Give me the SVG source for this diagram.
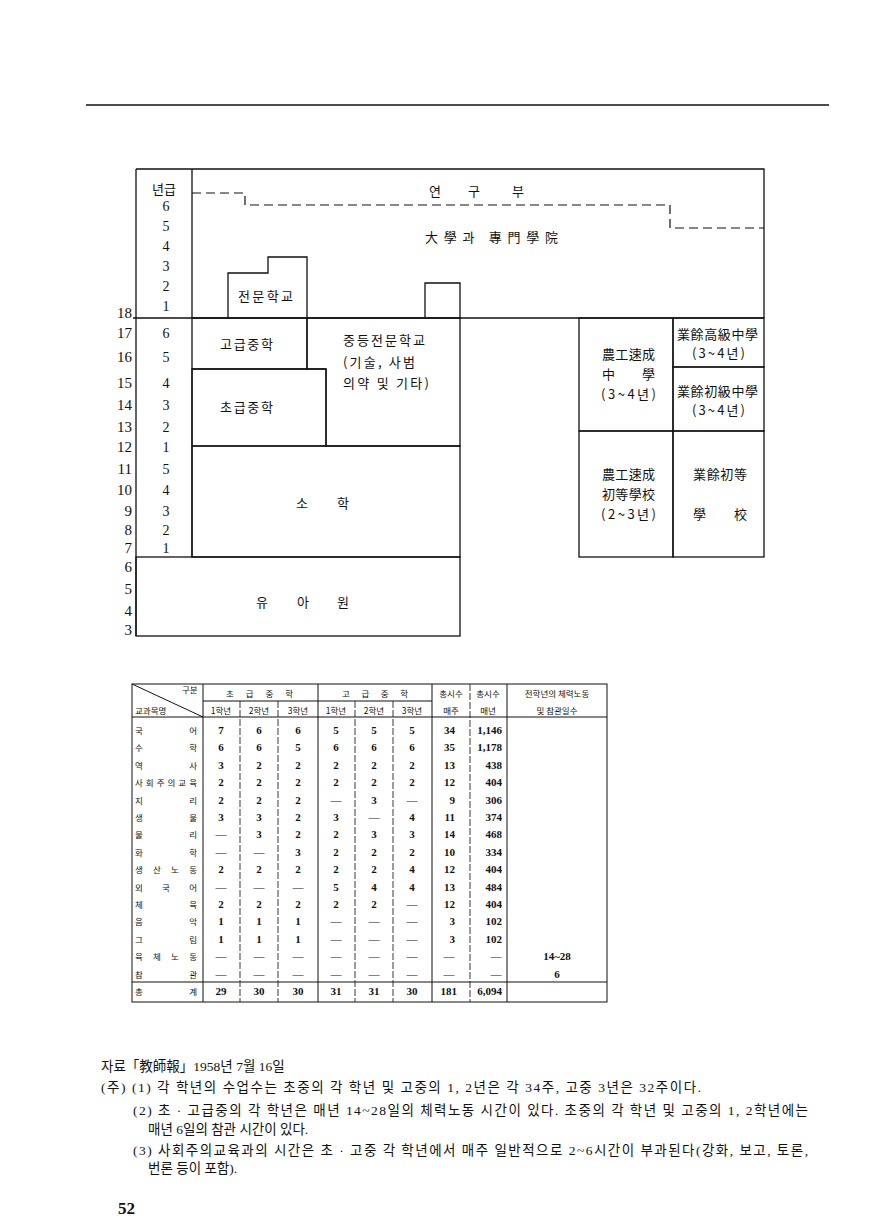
<svg xmlns="http://www.w3.org/2000/svg" width="881" height="1231" viewBox="0 0 881 1231">
<style>
text { dominant-baseline: central; fill: #111; }
.k { font-family: "Noto Sans CJK KR", sans-serif; font-size: 13px; }
.n { font-family: "Liberation Serif", "Noto Sans CJK KR", serif; font-size: 15px; }
.g { font-family: "Liberation Serif", "Noto Sans CJK KR", serif; font-size: 14px; text-anchor: middle; }
.ln { fill: none; stroke: #111; stroke-width: 1.3; }
.dash { fill: none; stroke: #111; stroke-width: 1.2; stroke-dasharray: 9 5; }
.tl { fill: none; stroke: #111; stroke-width: 1; }
.ti { fill: none; stroke: #222; stroke-width: 0.9; stroke-dasharray: 7 2; }
.th { font-family: "Noto Sans CJK KR", sans-serif; font-size: 8.5px; }
.tn { font-family: "Liberation Serif", serif; font-size: 11px; font-weight: bold; text-anchor: middle; }
.tr { font-family: "Liberation Serif", serif; font-size: 11px; font-weight: bold; text-anchor: end; }
.f { font-family: "Liberation Serif", "Noto Sans CJK KR", serif; font-size: 13.5px; }
.m { text-anchor: middle; }
</style>

<line x1="86" y1="105" x2="829" y2="105" stroke="#111" stroke-width="1.6"/>

<g id="connectors">
  <path class="dash" d="M192,193 H245 V205 H670 V228 H764"/>
</g>

<g id="frame">
  <path class="ln" d="M136,169 H764 V318 M133,318 H764 M136,169 V636 M192,169 V557"/>
  <path class="ln" d="M425,318 V283 H460 V318"/>
</g>

<g id="research">
  <text class="k m" x="435" y="190">연</text>
  <text class="k m" x="474" y="190">구</text>
  <text class="k m" x="518" y="190">부</text>
</g>

<g id="university">
  <text class="k" x="425" y="236" textLength="133" lengthAdjust="spacing">大學과 專門學院</text>
</g>

<g id="age-axis">
  <text class="n" text-anchor="end" x="132" y="313">18</text>
  <text class="n" text-anchor="end" x="132" y="333">17</text>
  <text class="n" text-anchor="end" x="132" y="357">16</text>
  <text class="n" text-anchor="end" x="132" y="383">15</text>
  <text class="n" text-anchor="end" x="132" y="405">14</text>
  <text class="n" text-anchor="end" x="132" y="427">13</text>
  <text class="n" text-anchor="end" x="132" y="447">12</text>
  <text class="n" text-anchor="end" x="132" y="469">11</text>
  <text class="n" text-anchor="end" x="132" y="490">10</text>
  <text class="n" text-anchor="end" x="132" y="511">9</text>
  <text class="n" text-anchor="end" x="132" y="530">8</text>
  <text class="n" text-anchor="end" x="132" y="548">7</text>
  <text class="n" text-anchor="end" x="132" y="567">6</text>
  <text class="n" text-anchor="end" x="132" y="589">5</text>
  <text class="n" text-anchor="end" x="132" y="611">4</text>
  <text class="n" text-anchor="end" x="132" y="630">3</text>
</g>

<g id="grade-axis">
  <text class="k m" x="164" y="188">년급</text>
  <text class="g" x="166" y="206">6</text>
  <text class="g" x="166" y="226">5</text>
  <text class="g" x="166" y="246">4</text>
  <text class="g" x="166" y="266">3</text>
  <text class="g" x="166" y="286">2</text>
  <text class="g" x="166" y="306">1</text>
  <text class="g" x="166" y="333">6</text>
  <text class="g" x="166" y="357">5</text>
  <text class="g" x="166" y="383">4</text>
  <text class="g" x="166" y="405">3</text>
  <text class="g" x="166" y="427">2</text>
  <text class="g" x="166" y="447">1</text>
  <text class="g" x="166" y="469">5</text>
  <text class="g" x="166" y="490">4</text>
  <text class="g" x="166" y="511">3</text>
  <text class="g" x="166" y="530">2</text>
  <text class="g" x="166" y="548">1</text>
</g>

<g id="jeonmun">
  <path class="ln" d="M228,318 V273 H268 V257 H307 V318"/>
  <text class="k" x="238" y="295" textLength="55" lengthAdjust="spacing">전문학교</text>
</g>

<g id="gogeup">
  <path class="ln" d="M192,318 H307 V369 H192"/>
  <text class="k" x="220" y="343" textLength="53" lengthAdjust="spacing">고급중학</text>
</g>

<g id="jungdeung">
  <path class="ln" d="M307,318 H460 V446 H326 V369 H307 Z"/>
  <text class="k" x="343" y="339" textLength="82" lengthAdjust="spacing">중등전문학교</text>
  <text class="k" x="343" y="361" textLength="72" lengthAdjust="spacing">(기술, 사범</text>
  <text class="k" x="343" y="382" textLength="86" lengthAdjust="spacing">의약 및 기타)</text>
</g>

<g id="chogeup">
  <rect class="ln" x="192" y="369" width="134" height="77"/>
  <text class="k" x="220" y="406" textLength="53" lengthAdjust="spacing">초급중학</text>
</g>

<g id="sohak">
  <rect class="ln" x="192" y="446" width="268" height="111"/>
  <text class="k m" x="302" y="502">소</text>
  <text class="k m" x="343" y="502">학</text>
</g>

<g id="yuawon">
  <rect class="ln" x="136" y="557" width="324" height="79"/>
  <text class="k m" x="262" y="601">유</text>
  <text class="k m" x="303" y="601">아</text>
  <text class="k m" x="343" y="601">원</text>
</g>

<g id="nonggong-jung">
  <rect class="ln" x="579" y="318" width="94" height="113"/>
  <text class="k" x="602" y="353" textLength="53" lengthAdjust="spacing">農工速成</text>
  <text class="k" x="602" y="373" textLength="53" lengthAdjust="spacing">中學</text>
  <text class="k" x="601" y="393" textLength="55" lengthAdjust="spacing">(3~4년)</text>
</g>

<g id="eobyeo-gogeup">
  <rect class="ln" x="673" y="318" width="91" height="49"/>
  <text class="k" x="677" y="333" textLength="81" lengthAdjust="spacing">業餘高級中學</text>
  <text class="k" x="692" y="352" textLength="53" lengthAdjust="spacing">(3~4년)</text>
</g>

<g id="eobyeo-chogeup">
  <rect class="ln" x="673" y="367" width="91" height="64"/>
  <text class="k" x="677" y="390" textLength="81" lengthAdjust="spacing">業餘初級中學</text>
  <text class="k" x="692" y="409" textLength="53" lengthAdjust="spacing">(3~4년)</text>
</g>

<g id="nonggong-cho">
  <rect class="ln" x="579" y="431" width="94" height="126"/>
  <text class="k" x="602" y="473" textLength="53" lengthAdjust="spacing">農工速成</text>
  <text class="k" x="602" y="493" textLength="53" lengthAdjust="spacing">初等學校</text>
  <text class="k" x="601" y="513" textLength="55" lengthAdjust="spacing">(2~3년)</text>
</g>

<g id="eobyeo-cho">
  <rect class="ln" x="673" y="431" width="91" height="126"/>
  <text class="k" x="693" y="473" textLength="54" lengthAdjust="spacing">業餘初等</text>
  <text class="k" x="693" y="513" textLength="54" lengthAdjust="spacing">學校</text>
</g>

<g id="table">
  <rect class="tl" x="132" y="684" width="475" height="318" stroke-width="1.3"/>
  <line class="tl" x1="132" y1="684" x2="203" y2="717"/>
  <line class="tl" x1="203" y1="701" x2="432" y2="701"/>
  <line class="tl" x1="132" y1="717" x2="607" y2="717"/>
  <line class="tl" x1="132" y1="982" x2="607" y2="982"/>
  <line class="tl" x1="203" y1="684" x2="203" y2="1002"/>
  <line class="tl" x1="318" y1="684" x2="318" y2="1002"/>
  <line class="tl" x1="432" y1="684" x2="432" y2="1002"/>
  <line class="tl" x1="507" y1="684" x2="507" y2="1002"/>
  <line class="ti" x1="240" y1="701" x2="240" y2="1002"/>
  <line class="ti" x1="278" y1="701" x2="278" y2="1002"/>
  <line class="ti" x1="355" y1="701" x2="355" y2="1002"/>
  <line class="ti" x1="393" y1="701" x2="393" y2="1002"/>
  <line class="ti" x1="470" y1="684" x2="470" y2="1002"/>

  <text class="th" x="182" y="689">구분</text>
  <text class="th" x="135" y="710">교과목명</text>
  <text class="th" x="226" y="693" textLength="67" lengthAdjust="spacing">초급중학</text>
  <text class="th" x="342" y="693" textLength="66" lengthAdjust="spacing">고급중학</text>
  <text class="th m" x="451" y="693">총시수</text>
  <text class="th m" x="488" y="693">총시수</text>
  <text class="th m" x="557" y="693">전학년의 체력노동</text>
  <text class="th m" x="221" y="710">1학년</text>
  <text class="th m" x="259" y="710">2학년</text>
  <text class="th m" x="298" y="710">3학년</text>
  <text class="th m" x="336" y="710">1학년</text>
  <text class="th m" x="374" y="710">2학년</text>
  <text class="th m" x="412" y="710">3학년</text>
  <text class="th m" x="451" y="710">매주</text>
  <text class="th m" x="488" y="710">매년</text>
  <text class="th m" x="557" y="710">및 참관일수</text>

  <g class="th">
    <text class="th" x="135" y="730" textLength="62" lengthAdjust="spacing">국어</text>
    <text class="th" x="135" y="747" textLength="62" lengthAdjust="spacing">수학</text>
    <text class="th" x="135" y="765" textLength="62" lengthAdjust="spacing">역사</text>
    <text class="th" x="135" y="782" textLength="62" lengthAdjust="spacing">사회주의교육</text>
    <text class="th" x="135" y="800" textLength="62" lengthAdjust="spacing">지리</text>
    <text class="th" x="135" y="817" textLength="62" lengthAdjust="spacing">생물</text>
    <text class="th" x="135" y="834" textLength="62" lengthAdjust="spacing">물리</text>
    <text class="th" x="135" y="852" textLength="62" lengthAdjust="spacing">화학</text>
    <text class="th" x="135" y="869" textLength="62" lengthAdjust="spacing">생산노동</text>
    <text class="th" x="135" y="887" textLength="62" lengthAdjust="spacing">외국어</text>
    <text class="th" x="135" y="904" textLength="62" lengthAdjust="spacing">체육</text>
    <text class="th" x="135" y="921" textLength="62" lengthAdjust="spacing">음악</text>
    <text class="th" x="135" y="939" textLength="62" lengthAdjust="spacing">그림</text>
    <text class="th" x="135" y="956" textLength="62" lengthAdjust="spacing">육체노동</text>
    <text class="th" x="135" y="974" textLength="62" lengthAdjust="spacing">참관</text>
    <text class="th" x="135" y="991" textLength="62" lengthAdjust="spacing">총계</text>
  </g>

  <text class="tn" x="221" y="730">7</text><text class="tn" x="259" y="730">6</text><text class="tn" x="298" y="730">6</text><text class="tn" x="336" y="730">5</text><text class="tn" x="374" y="730">5</text><text class="tn" x="412" y="730">5</text><text class="tr" x="455" y="730">34</text><text class="tr" x="502" y="730">1,146</text>
  <text class="tn" x="221" y="747">6</text><text class="tn" x="259" y="747">6</text><text class="tn" x="298" y="747">5</text><text class="tn" x="336" y="747">6</text><text class="tn" x="374" y="747">6</text><text class="tn" x="412" y="747">6</text><text class="tr" x="455" y="747">35</text><text class="tr" x="502" y="747">1,178</text>
  <text class="tn" x="221" y="765">3</text><text class="tn" x="259" y="765">2</text><text class="tn" x="298" y="765">2</text><text class="tn" x="336" y="765">2</text><text class="tn" x="374" y="765">2</text><text class="tn" x="412" y="765">2</text><text class="tr" x="455" y="765">13</text><text class="tr" x="502" y="765">438</text>
  <text class="tn" x="221" y="782">2</text><text class="tn" x="259" y="782">2</text><text class="tn" x="298" y="782">2</text><text class="tn" x="336" y="782">2</text><text class="tn" x="374" y="782">2</text><text class="tn" x="412" y="782">2</text><text class="tr" x="455" y="782">12</text><text class="tr" x="502" y="782">404</text>
  <text class="tn" x="221" y="800">2</text><text class="tn" x="259" y="800">2</text><text class="tn" x="298" y="800">2</text><text class="tn" x="336" y="800">—</text><text class="tn" x="374" y="800">3</text><text class="tn" x="412" y="800">—</text><text class="tr" x="455" y="800">9</text><text class="tr" x="502" y="800">306</text>
  <text class="tn" x="221" y="817">3</text><text class="tn" x="259" y="817">3</text><text class="tn" x="298" y="817">2</text><text class="tn" x="336" y="817">3</text><text class="tn" x="374" y="817">—</text><text class="tn" x="412" y="817">4</text><text class="tr" x="455" y="817">11</text><text class="tr" x="502" y="817">374</text>
  <text class="tn" x="221" y="834">—</text><text class="tn" x="259" y="834">3</text><text class="tn" x="298" y="834">2</text><text class="tn" x="336" y="834">2</text><text class="tn" x="374" y="834">3</text><text class="tn" x="412" y="834">3</text><text class="tr" x="455" y="834">14</text><text class="tr" x="502" y="834">468</text>
  <text class="tn" x="221" y="852">—</text><text class="tn" x="259" y="852">—</text><text class="tn" x="298" y="852">3</text><text class="tn" x="336" y="852">2</text><text class="tn" x="374" y="852">2</text><text class="tn" x="412" y="852">2</text><text class="tr" x="455" y="852">10</text><text class="tr" x="502" y="852">334</text>
  <text class="tn" x="221" y="869">2</text><text class="tn" x="259" y="869">2</text><text class="tn" x="298" y="869">2</text><text class="tn" x="336" y="869">2</text><text class="tn" x="374" y="869">2</text><text class="tn" x="412" y="869">4</text><text class="tr" x="455" y="869">12</text><text class="tr" x="502" y="869">404</text>
  <text class="tn" x="221" y="887">—</text><text class="tn" x="259" y="887">—</text><text class="tn" x="298" y="887">—</text><text class="tn" x="336" y="887">5</text><text class="tn" x="374" y="887">4</text><text class="tn" x="412" y="887">4</text><text class="tr" x="455" y="887">13</text><text class="tr" x="502" y="887">484</text>
  <text class="tn" x="221" y="904">2</text><text class="tn" x="259" y="904">2</text><text class="tn" x="298" y="904">2</text><text class="tn" x="336" y="904">2</text><text class="tn" x="374" y="904">2</text><text class="tn" x="412" y="904">—</text><text class="tr" x="455" y="904">12</text><text class="tr" x="502" y="904">404</text>
  <text class="tn" x="221" y="921">1</text><text class="tn" x="259" y="921">1</text><text class="tn" x="298" y="921">1</text><text class="tn" x="336" y="921">—</text><text class="tn" x="374" y="921">—</text><text class="tn" x="412" y="921">—</text><text class="tr" x="455" y="921">3</text><text class="tr" x="502" y="921">102</text>
  <text class="tn" x="221" y="939">1</text><text class="tn" x="259" y="939">1</text><text class="tn" x="298" y="939">1</text><text class="tn" x="336" y="939">—</text><text class="tn" x="374" y="939">—</text><text class="tn" x="412" y="939">—</text><text class="tr" x="455" y="939">3</text><text class="tr" x="502" y="939">102</text>
  <text class="tn" x="221" y="956">—</text><text class="tn" x="259" y="956">—</text><text class="tn" x="298" y="956">—</text><text class="tn" x="336" y="956">—</text><text class="tn" x="374" y="956">—</text><text class="tn" x="412" y="956">—</text><text class="tn" x="449" y="956">—</text><text class="tn" x="496" y="956">—</text><text class="tn" x="557" y="956">14~28</text>
  <text class="tn" x="221" y="974">—</text><text class="tn" x="259" y="974">—</text><text class="tn" x="298" y="974">—</text><text class="tn" x="336" y="974">—</text><text class="tn" x="374" y="974">—</text><text class="tn" x="412" y="974">—</text><text class="tn" x="449" y="974">—</text><text class="tn" x="496" y="974">—</text><text class="tn" x="557" y="974">6</text>
  <text class="tn" x="221" y="991">29</text><text class="tn" x="259" y="991">30</text><text class="tn" x="298" y="991">30</text><text class="tn" x="336" y="991">31</text><text class="tn" x="374" y="991">31</text><text class="tn" x="412" y="991">30</text><text class="tr" x="457" y="991">181</text><text class="tr" x="502" y="991">6,094</text>
</g>

<g id="notes">
  <text class="f" x="101" y="1066">자료「教師報」1958년 7월 16일</text>
  <text class="f" x="101" y="1087" textLength="600" lengthAdjust="spacing">(주) (1) 각 학년의 수업수는 초중의 각 학년 및 고중의 1, 2년은 각 34주, 고중 3년은 32주이다.</text>
  <text class="f" x="133" y="1110" textLength="675" lengthAdjust="spacing">(2) 초 · 고급중의 각 학년은 매년 14~28일의 체력노동 시간이 있다. 초중의 각 학년 및 고중의 1, 2학년에는</text>
  <text class="f" x="148" y="1129">매년 6일의 참관 시간이 있다.</text>
  <text class="f" x="133" y="1150" textLength="675" lengthAdjust="spacing">(3) 사회주의교육과의 시간은 초 · 고중 각 학년에서 매주 일반적으로 2~6시간이 부과된다(강화, 보고, 토론,</text>
  <text class="f" x="148" y="1168">번론 등이 포함).</text>
  <text x="118" y="1208" font-family="Liberation Serif, serif" font-size="17" font-weight="bold">52</text>
</g>
</svg>
